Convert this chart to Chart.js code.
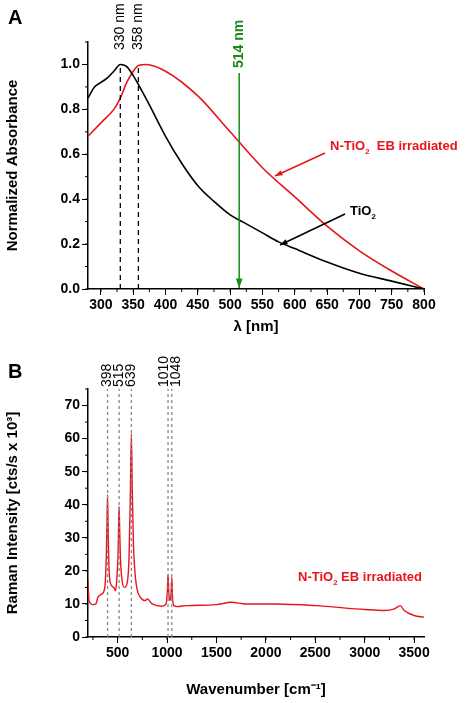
<!DOCTYPE html>
<html>
<head>
<meta charset="utf-8">
<script src="https://cdn.jsdelivr.net/npm/chart.js@4.4.0/dist/chart.umd.min.js"></script>
<style>
  body { margin: 0; background: #fff; }
  canvas { position: absolute; left: 0; }
  #chartA { top: 0; }
  #chartB { top: 350px; }
</style>
</head>
<body>
<canvas id="chartA" width="474" height="340"></canvas>
<canvas id="chartB" width="474" height="353"></canvas>
<script>
// Panel A: UV-vis absorbance
const tio2Wl = [280, 290, 300, 310, 320, 330, 340, 350, 360, 375, 400, 425, 450, 475, 500, 525, 550, 575, 600, 650, 700, 750, 800];
const tio2Abs = [0.85, 0.90, 0.92, 0.94, 0.97, 1.0, 0.99, 0.95, 0.90, 0.82, 0.68, 0.56, 0.46, 0.39, 0.33, 0.29, 0.25, 0.21, 0.18, 0.12, 0.07, 0.035, 0.0];
const ntioWl = [280, 300, 320, 330, 340, 350, 358, 370, 400, 450, 500, 550, 600, 650, 700, 750, 800];
const ntioAbs = [0.68, 0.74, 0.80, 0.85, 0.92, 0.97, 0.995, 1.0, 0.97, 0.86, 0.70, 0.54, 0.41, 0.28, 0.17, 0.08, 0.0];
const peakLinesA = [330, 358];
const laserLine = 514;

// Panel B: Raman spectrum
const ramanWn = [200, 210, 250, 280, 300, 340, 370, 385, 392, 398, 404, 412, 430, 460, 480, 490, 505, 510, 515, 520, 528, 545, 570, 600, 615, 628, 639, 648, 660, 680, 700, 730, 780, 800, 850, 950, 990, 1003, 1010, 1018, 1028, 1040, 1048, 1055, 1070, 1100, 1200, 1500, 1650, 1800, 2100, 2500, 3000, 3200, 3300, 3360, 3400, 3500, 3600];
const ramanInt = [17, 11, 9.8, 10, 12, 13, 15, 24, 34, 43, 32, 21, 16, 15, 14, 17, 26, 34, 39.5, 33, 24, 17, 15, 17, 24, 42, 61.5, 44, 28, 18, 14, 12, 11, 11.5, 10, 9.3, 10, 14, 19, 13, 11, 13, 18, 12, 9.5, 9.2, 9.5, 9.8, 10.5, 10, 10, 9.5, 8.3, 8.0, 8.5, 9.5, 8, 6.5, 6];
const ramanPeaks = [398, 515, 639, 1010, 1048];

const FONT = 'Liberation Sans, Arial, sans-serif';

function pts(xs, ys) {
    return xs.map((x, i) => ({ x: x, y: ys[i] }));
}

function arrow(ctx, x1, y1, x2, y2, color, head) {
    ctx.save();
    ctx.strokeStyle = color;
    ctx.fillStyle = color;
    ctx.lineWidth = 1.5;
    ctx.beginPath();
    ctx.moveTo(x1, y1);
    ctx.lineTo(x2, y2);
    ctx.stroke();
    const a = Math.atan2(y2 - y1, x2 - x1);
    ctx.beginPath();
    ctx.moveTo(x2, y2);
    ctx.lineTo(x2 - head * Math.cos(a - 0.35), y2 - head * Math.sin(a - 0.35));
    ctx.lineTo(x2 - head * Math.cos(a + 0.35), y2 - head * Math.sin(a + 0.35));
    ctx.closePath();
    ctx.fill();
    ctx.restore();
}

function vText(ctx, text, x, yBottom, color, size, bold) {
    ctx.save();
    ctx.translate(x, yBottom);
    ctx.rotate(-Math.PI / 2);
    ctx.fillStyle = color;
    ctx.font = (bold ? 'bold ' : '') + size + 'px ' + FONT;
    ctx.textAlign = 'left';
    ctx.textBaseline = 'middle';
    ctx.fillText(text, 0, 0);
    ctx.restore();
}

function subText(ctx, parts, x, y, color, size) {
    // parts: [text, isSub]
    ctx.save();
    ctx.fillStyle = color;
    ctx.textBaseline = 'alphabetic';
    let cx = x;
    parts.forEach(p => {
        ctx.font = 'bold ' + (p[1] ? size * 0.6 : size) + 'px ' + FONT;
        ctx.fillText(p[0], cx, y + (p[1] ? 4 : 0));
        cx += ctx.measureText(p[0]).width;
    });
    ctx.restore();
}

function minorTicks(ctx, scale, step, vertical) {
    const area = scale.chart.chartArea;
    ctx.save();
    ctx.strokeStyle = '#000';
    ctx.lineWidth = 1;
    for (let v = Math.ceil(scale.min / step) * step; v <= scale.max; v += step) {
        const p = scale.getPixelForValue(v);
        ctx.beginPath();
        if (vertical) {
            ctx.moveTo(area.left, p);
            ctx.lineTo(area.left - 3, p);
        } else {
            ctx.moveTo(p, area.bottom);
            ctx.lineTo(p, area.bottom + 3);
        }
        ctx.stroke();
    }
    ctx.restore();
}

function axisStyle(title, min, max, ticksAt, size, fmt) {
    return {
        type: 'linear',
        min: min,
        max: max,
        afterBuildTicks: s => { s.ticks = ticksAt.map(v => ({ value: v })); },
        grid: { display: true, drawOnChartArea: false, tickLength: 6, color: '#000' },
        border: { color: '#000', width: 1.5 },
        ticks: { color: '#000', font: { family: FONT, size: 14, weight: 'bold' }, padding: 2, maxRotation: 0, autoSkip: false, callback: fmt },
        title: { display: true, text: title, color: '#000', font: { family: FONT, size: 15, weight: 'bold' }, padding: 4 },
        afterFit: s => { if (s.isHorizontal()) s.height = size; else s.width = size; }
    };
}

const annotA = {
    id: 'annotA',
    afterDraw(chart) {
        const ctx = chart.ctx;
        const x = chart.scales.x, y = chart.scales.y;
        const area = chart.chartArea;
        ctx.save();
        ctx.strokeStyle = '#000';
        ctx.lineWidth = 1.3;
        ctx.setLineDash([5, 4]);
        peakLinesA.forEach(v => {
            const px = x.getPixelForValue(v);
            ctx.beginPath();
            ctx.moveTo(px, y.getPixelForValue(0));
            ctx.lineTo(px, y.getPixelForValue(1.0));
            ctx.stroke();
            vText(ctx, v + ' nm', px, area.top + 8, '#000', 14, false);
        });
        ctx.setLineDash([]);
        const lx = x.getPixelForValue(laserLine);
        arrow(ctx, lx, 73, lx, y.getPixelForValue(0) - 1, '#1a8a1a', 10);
        vText(ctx, laserLine + ' nm', lx, 68, '#1a8a1a', 14, true);
        minorTicks(ctx, x, 25, false);
        minorTicks(ctx, y, 0.1, true);
        ctx.fillStyle = '#000';
        ctx.font = 'bold 20px ' + FONT;
        ctx.fillText('A', 8, 24);
        subText(ctx, [['N-TiO', false], ['2', true], ['  EB irradiated', false]], 330, 150, '#e8141c', 13);
        arrow(ctx, 325, 153, 275, 176, '#e8141c', 8);
        subText(ctx, [['TiO', false], ['2', true]], 350, 215, '#000', 13);
        arrow(ctx, 345, 214, 280, 245, '#000', 8);
        ctx.restore();
    }
};

const annotB = {
    id: 'annotB',
    afterDraw(chart) {
        const ctx = chart.ctx;
        const x = chart.scales.x, y = chart.scales.y;
        const area = chart.chartArea;
        const labelShift = { 1010: -4, 1048: 4 };
        ctx.save();
        ctx.strokeStyle = '#888';
        ctx.lineWidth = 1.3;
        ctx.setLineDash([3, 3]);
        ramanPeaks.forEach(v => {
            const px = x.getPixelForValue(v);
            ctx.beginPath();
            ctx.moveTo(px, area.bottom);
            ctx.lineTo(px, area.top);
            ctx.stroke();
            vText(ctx, String(v), px + (labelShift[v] || 0), area.top - 2, '#000', 14, false);
        });
        ctx.setLineDash([]);
        minorTicks(ctx, x, 250, false);
        minorTicks(ctx, y, 5, true);
        ctx.fillStyle = '#000';
        ctx.font = 'bold 20px ' + FONT;
        ctx.fillText('B', 8, 28);
        subText(ctx, [['N-TiO', false], ['2', true], [' EB irradiated', false]], 298, 231, '#e8141c', 13);
        ctx.restore();
    }
};

new Chart(document.getElementById('chartA'), {
    type: 'line',
    data: {
        datasets: [
            { data: pts(tio2Wl, tio2Abs), borderColor: '#000', borderWidth: 1.6, pointRadius: 0, cubicInterpolationMode: 'monotone' },
            { data: pts(ntioWl, ntioAbs), borderColor: '#e8141c', borderWidth: 1.6, pointRadius: 0, cubicInterpolationMode: 'monotone' }
        ]
    },
    options: {
        responsive: false,
        animation: false,
        layout: { padding: { top: 42, right: 50, left: 0, bottom: 0 } },
        plugins: { legend: { display: false }, tooltip: { enabled: false } },
        scales: {
            x: axisStyle('λ [nm]', 280, 800, [300, 350, 400, 450, 500, 550, 600, 650, 700, 750, 800], 51, v => v),
            y: axisStyle('Normalized Absorbance', 0, 1.1, [0, 0.2, 0.4, 0.6, 0.8, 1.0], 88, v => v.toFixed(1))
        }
    },
    plugins: [annotA]
});

new Chart(document.getElementById('chartB'), {
    type: 'line',
    data: {
        datasets: [
            { data: pts(ramanWn, ramanInt), borderColor: '#e8141c', borderWidth: 1.4, pointRadius: 0, cubicInterpolationMode: 'monotone' }
        ]
    },
    options: {
        responsive: false,
        animation: false,
        layout: { padding: { top: 39, right: 50, left: 0, bottom: 0 } },
        plugins: { legend: { display: false }, tooltip: { enabled: false } },
        scales: {
            x: axisStyle('Wavenumber [cm⁻¹]', 200, 3600, [500, 1000, 1500, 2000, 2500, 3000, 3500], 66, v => v),
            y: axisStyle('Raman Intensity [cts/s x 10³]', 0, 75, [0, 10, 20, 30, 40, 50, 60, 70], 88, v => v)
        }
    },
    plugins: [annotB]
});
</script>
</body>
</html>
